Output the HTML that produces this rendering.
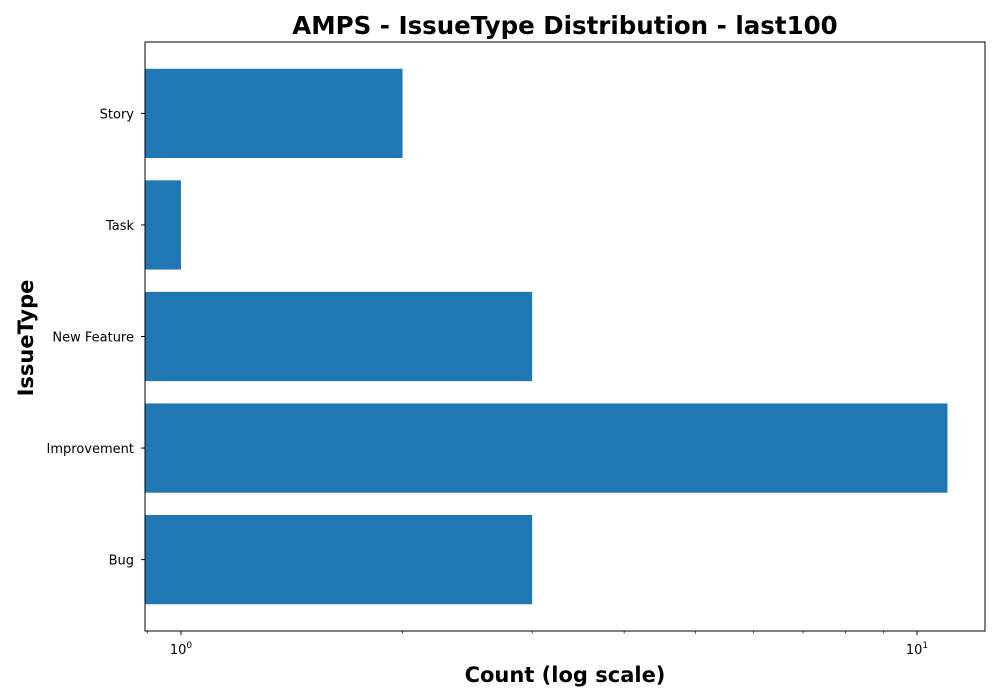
<!DOCTYPE html>
<html><head><meta charset="utf-8"><style>body{margin:0;background:#fff}svg{display:block;font-family:"DejaVu Sans","Liberation Sans",sans-serif}</style></head>
<body>
<svg id="chart" width="1000" height="700" viewBox="0 0 1000 700">
<rect width="1000" height="700" fill="#fff"/>
<text x="565" y="34" text-anchor="middle" font-size="24.5" font-weight="bold">AMPS - IssueType Distribution - last100</text>
<g id="bars"></g>
<g id="axes"></g>
<text x="565" y="682" text-anchor="middle" font-size="21" font-weight="bold">Count (log scale)</text>
<text transform="translate(33,338) rotate(-90)" text-anchor="middle" font-size="21" font-weight="bold">IssueType</text>
</svg>
<script>
const categories = ["Story","Task","New Feature","Improvement","Bug"];
const counts = [2,1,3,11,3];
const majorTicks = [1,10];
const majorLabels = ["0","1"];
const minorTicks = [0.9,2,3,4,5,6,7,8,9,20];
const L=145,R=985,T=42,B=631;
const logMin=Math.log10(0.8936), logMax=Math.log10(12.37);
function xs(v){return L+(Math.log10(v)-logMin)/(logMax-logMin)*(R-L);}
const n=categories.length;
const u=(B-T)/(n-1+0.8+2*0.05*(n-1+0.8));
const pad=0.05*(n-1+0.8)+0.4;
function yc(i){return T+(pad+i)*u;}
const ns="http://www.w3.org/2000/svg";
function mk(tag,attrs,parent){const e=document.createElementNS(ns,tag);for(const k in attrs)e.setAttribute(k,attrs[k]);parent.appendChild(e);return e;}
const bars=document.getElementById('bars'), axes=document.getElementById('axes');
categories.forEach((c,i)=>{
  const h=u*0.8, x1=Math.max(L,xs(counts[i]));
  const r=mk('rect',{x:L,y:yc(i)-h/2,width:x1-L,height:h,fill:'#1f77b4'},bars);
  
  
  const t=mk('line',{x1:L,x2:L-4,y1:yc(i),y2:yc(i),stroke:'#000'},axes);
  
  
  const lb=mk('text',{x:L-11,y:yc(i)+5,'text-anchor':'end','font-size':'13'},axes);
  lb.textContent=c;
  
  
});
minorTicks.forEach(v=>{const x=xs(v);if(x<L||x>R)return;
  const t=mk('line',{x1:x,x2:x,y1:B,y2:B+2.5,stroke:'#000','stroke-width':0.7},axes);
  
  });
majorTicks.forEach((v,i)=>{const x=xs(v);
  const t=mk('line',{x1:x,x2:x,y1:B,y2:B+4,stroke:'#000'},axes);
  
  
  const lb=mk('text',{x:x,y:B+23,'text-anchor':'middle','font-size':'13'},axes);
  
  
  lb.appendChild(document.createTextNode('10'));
  const s=mk('tspan',{dy:'-6','font-size':'9'},lb);s.textContent=majorLabels[i];});
const fr=mk('rect',{x:L,y:T,width:R-L,height:B-T,fill:'none',stroke:'#000','stroke-width':1},axes);


</script>
</body></html>
